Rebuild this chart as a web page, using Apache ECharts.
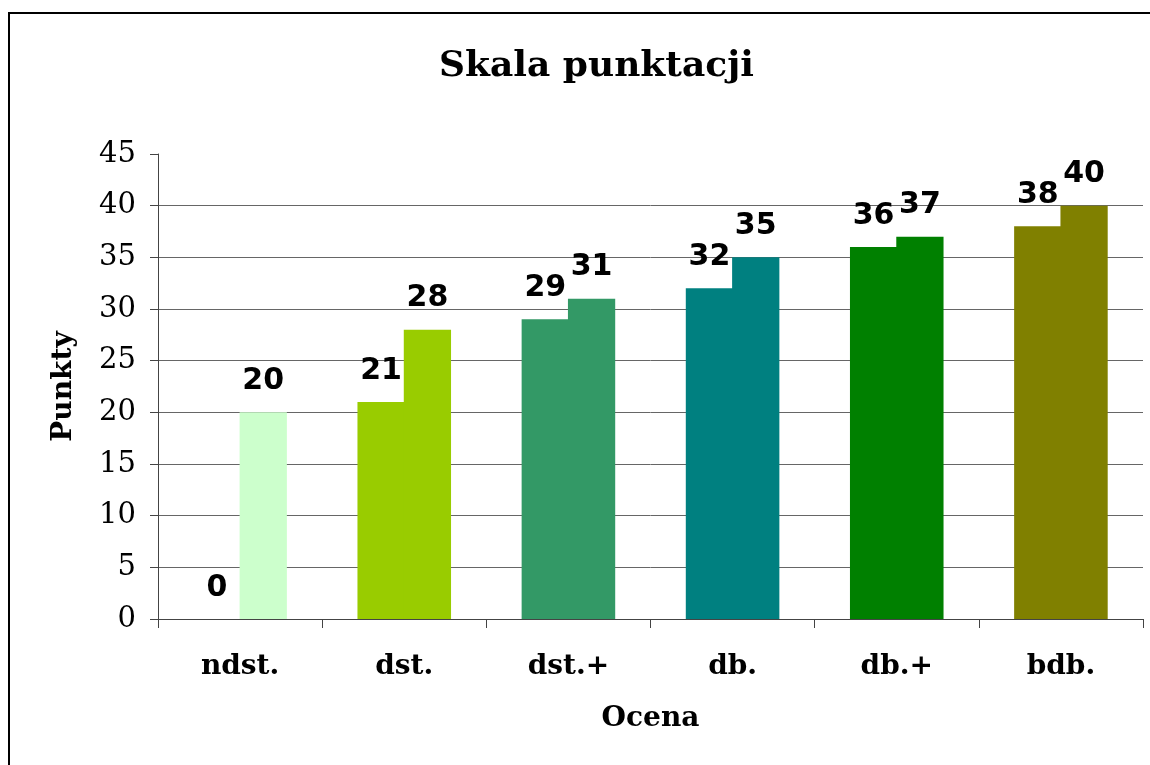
<!DOCTYPE html>
<html>
<head>
<meta charset="utf-8">
<script src="https://cdn.jsdelivr.net/npm/echarts@6/dist/echarts.min.js"></script>
<style>
html,body{margin:0;padding:0;background:#fff;}
#c{width:1150px;height:765px;}
</style>
</head>
<body>
<div id="c"></div>
<script>
var categories = ['ndst.', 'dst.', 'dst.+', 'db.', 'db.+', 'bdb.'];
var minPoints = [0, 21, 29, 32, 36, 38];
var maxPoints = [20, 28, 31, 35, 37, 40];
var barColors = ['#CCFFCC', '#99CC00', '#339966', '#008080', '#008000', '#808000'];
var yTicks = [0, 5, 10, 15, 20, 25, 30, 35, 40, 45];

var serif = '"DejaVu Serif", serif';
var sans = '"DejaVu Sans", sans-serif';

var labelCfg = {
  show: true,
  position: 'top',
  distance: 16,
  color: '#000',
  fontFamily: sans,
  fontWeight: 'bold',
  fontSize: 30
};

function mk(vals) {
  return vals.map(function (v, i) {
    return { value: v, itemStyle: { color: barColors[i] } };
  });
}

var gridColors = yTicks.map(function (t, i) { return i === yTicks.length - 1 ? '#ffffff' : '#666'; });

var chart = echarts.init(document.getElementById('c'), null, { renderer: 'canvas' });
chart.setOption({
  animation: false,
  backgroundColor: '#fff',
  title: {
    text: 'Skala punktacji',
    left: 434,
    top: 44,
    textStyle: { fontFamily: serif, fontWeight: 'bold', fontSize: 36, color: '#000' }
  },
  graphic: [{
    type: 'rect',
    shape: { x: 9, y: 13, width: 1200, height: 800 },
    style: { fill: 'none', stroke: '#000', lineWidth: 2 },
    silent: true
  }],
  grid: { left: 158, right: 7, top: 154, bottom: 146 },
  xAxis: {
    type: 'category',
    data: categories,
    name: 'Ocena',
    nameLocation: 'middle',
    nameGap: 86,
    nameTextStyle: { fontFamily: serif, fontWeight: 'bold', fontSize: 28, color: '#000', verticalAlign: 'top' },
    axisLine: { lineStyle: { color: '#444', width: 1 } },
    axisTick: { show: true, length: 9, lineStyle: { color: '#444' } },
    axisLabel: { margin: 34, fontFamily: serif, fontWeight: 'bold', fontSize: 28, color: '#000' }
  },
  yAxis: {
    type: 'value',
    min: 0,
    max: 45,
    interval: 5,
    name: 'Punkty',
    nameLocation: 'middle',
    nameRotate: 90,
    nameGap: 80,
    nameTextStyle: { fontFamily: serif, fontWeight: 'bold', fontSize: 28, color: '#000' },
    axisLine: { show: true, lineStyle: { color: '#444', width: 1 } },
    axisTick: { show: true, length: 8, lineStyle: { color: '#444' } },
    axisLabel: {
      margin: 22,
      fontFamily: serif,
      fontSize: 29,
      color: '#000',
      formatter: function (v) { return yTicks.indexOf(v) >= 0 ? String(v) : ''; }
    },
    splitLine: { show: true, lineStyle: { color: gridColors, width: 1 } }
  },
  series: [
    { name: 'min', type: 'bar', data: mk(minPoints), barGap: '-2%', barCategoryGap: '43%', label: labelCfg },
    { name: 'max', type: 'bar', data: mk(maxPoints), barGap: '-2%', barCategoryGap: '43%', label: labelCfg }
  ]
});
</script>
</body>
</html>
